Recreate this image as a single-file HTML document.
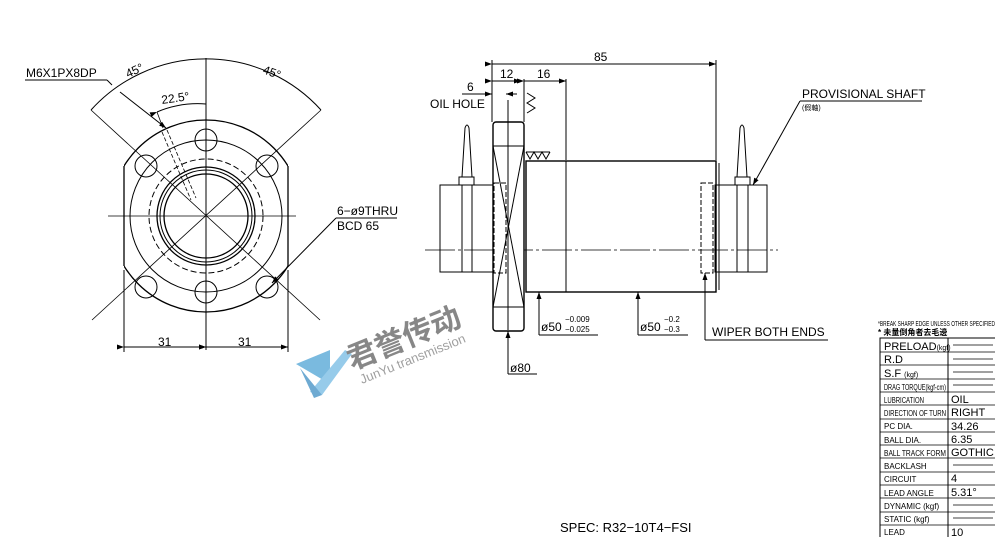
<!DOCTYPE html>
<html><head><meta charset="utf-8"><style>
html,body{margin:0;padding:0;background:#fff}
svg{display:block}
text{font-family:"Liberation Sans","Noto Sans CJK SC",sans-serif;fill:#000}
</style></head><body>
<svg width="995" height="537" viewBox="0 0 995 537" xmlns="http://www.w3.org/2000/svg">
<defs>
<clipPath id="fl"><rect x="124" y="100" width="164" height="240"/></clipPath>
<marker id="ar" markerWidth="8" markerHeight="6" refX="7" refY="3" orient="auto"><path d="M0,0.5 L7,3 L0,5.5z" fill="#000"/></marker>
</defs>
<g stroke="#000" fill="none" stroke-width="1">
<circle cx="206" cy="216" r="96" clip-path="url(#fl)" stroke-width="1.3"/>
<line x1="124" y1="166" x2="124" y2="266" stroke-width="1.3"/>
<line x1="288" y1="166" x2="288" y2="266" stroke-width="1.3"/>
<circle cx="206" cy="216" r="76"/>
<circle cx="206" cy="216" r="57" stroke-dasharray="6,3"/>
<circle cx="206" cy="216" r="49" stroke-width="1.3"/>
<circle cx="206" cy="216" r="46"/>
<circle cx="206" cy="216" r="42" stroke-width="1.3"/>
<circle cx="206" cy="140" r="11"/><circle cx="206" cy="292" r="11"/>
<circle cx="146" cy="166" r="11"/><circle cx="267" cy="166" r="11"/>
<circle cx="146" cy="287" r="11"/><circle cx="267" cy="287" r="11"/>
<line x1="108" y1="216" x2="296" y2="216" stroke-width="0.8"/>
<line x1="206" y1="58" x2="206" y2="350"/>
<path d="M91,110 A155,155 0 0 1 321,110"/>
<line x1="91" y1="110" x2="320" y2="320" stroke-width="0.8"/>
<line x1="321" y1="110" x2="92" y2="320" stroke-width="0.8"/>
<path d="M157,112 A105,105 0 0 1 206,104" marker-start="url(#ar)"/>
<line x1="157" y1="112" x2="163" y2="128" stroke-width="0.8"/>
<line x1="167" y1="130" x2="196" y2="198" stroke-dasharray="4,2" stroke-width="0.8"/>
<line x1="162" y1="132" x2="191" y2="200" stroke-dasharray="4,2" stroke-width="0.8"/>
<line x1="25" y1="80" x2="107" y2="80"/>
<polyline points="107,80 112,85"/>
<line x1="120" y1="92" x2="166" y2="128" marker-end="url(#ar)"/>
<line x1="124" y1="270" x2="124" y2="352"/><line x1="288" y1="270" x2="288" y2="352"/>
<line x1="124" y1="347" x2="206" y2="347" marker-start="url(#ar)" marker-end="url(#ar)"/>
<line x1="206" y1="347" x2="288" y2="347" marker-start="url(#ar)" marker-end="url(#ar)"/>
<line x1="336" y1="218" x2="397" y2="218"/>
<line x1="336" y1="218" x2="272" y2="283" marker-end="url(#ar)"/>
<line x1="425" y1="250" x2="778" y2="250" stroke-width="0.8" stroke-dasharray="30,3,3,3"/>
<rect x="440" y="185" width="54" height="87"/>
<rect x="715" y="185" width="52" height="87"/>
<rect x="462" y="185" width="10" height="87"/><rect x="737" y="185" width="11" height="87"/>
<rect x="459" y="177" width="15" height="8"/><rect x="735" y="177" width="15" height="8"/>
<path d="M462,177 L465,128 Q467,122 469,128 L472,177"/>
<path d="M737,177 L740,128 Q742,122 744,128 L747,177"/>
<rect x="493" y="122" width="31" height="209" rx="3" stroke-width="1.4" fill="#fff"/>
<line x1="493" y1="146" x2="524" y2="146"/><line x1="493" y1="307" x2="524" y2="307"/>
<line x1="493" y1="146" x2="524" y2="307"/><line x1="524" y1="146" x2="493" y2="307"/>
<line x1="508" y1="100" x2="508" y2="330"/>
<rect x="494" y="183" width="12" height="90" stroke-dasharray="5,2"/>
<rect x="701" y="183" width="12" height="90" stroke-dasharray="5,2"/>
<line x1="524" y1="155" x2="524" y2="300"/>
<rect x="526" y="161" width="190" height="131" stroke-width="1.4"/>
<line x1="566" y1="161" x2="566" y2="292"/>
<line x1="719" y1="163" x2="719" y2="290"/>
<line x1="492" y1="60" x2="492" y2="122"/><line x1="716" y1="60" x2="716" y2="160"/>
<line x1="566" y1="79" x2="566" y2="160"/><line x1="524" y1="79" x2="524" y2="122"/>
<line x1="492" y1="64" x2="716" y2="64" marker-start="url(#ar)" marker-end="url(#ar)"/>
<line x1="492" y1="81" x2="521" y2="81" marker-start="url(#ar)" marker-end="url(#ar)"/>
<line x1="524" y1="81" x2="566" y2="81" marker-start="url(#ar)" marker-end="url(#ar)"/>
<line x1="462" y1="94" x2="488" y2="94"/><line x1="488" y1="94" x2="492" y2="94" marker-end="url(#ar)"/>
<line x1="517" y1="94" x2="506" y2="94" marker-end="url(#ar)"/>
<path d="M527,93 L535,98 L527,103 L535,108 L527,113" />
<path d="M526,152 L530,159 L534,152 L538,159 L542,152 L546,159 L550,152"/>
<line x1="526" y1="152" x2="550" y2="152"/>
<line x1="539" y1="335" x2="539" y2="292" marker-end="url(#ar)"/>
<line x1="539" y1="335" x2="598" y2="335"/>
<line x1="638" y1="335" x2="638" y2="292" marker-end="url(#ar)"/>
<line x1="638" y1="335" x2="688" y2="335"/>
<line x1="705" y1="340" x2="705" y2="273" marker-end="url(#ar)"/>
<line x1="705" y1="340" x2="828" y2="340"/>
<line x1="508" y1="374" x2="508" y2="331" marker-end="url(#ar)"/>
<line x1="508" y1="374" x2="537" y2="374"/>
<line x1="800" y1="101" x2="922" y2="101"/>
<line x1="800" y1="101" x2="753" y2="185" marker-end="url(#ar)"/>
<rect x="880" y="338" width="116" height="205"/>
<line x1="948" y1="338" x2="948" y2="537"/>
</g>
<g font-size="12">
<text x="26" y="77">M6X1PX8DP</text>
<text x="128" y="78" transform="rotate(-25 128 78)">45°</text>
<text x="262" y="73" transform="rotate(20 262 73)">45°</text>
<text x="162" y="104" transform="rotate(-8 162 104)">22.5°</text>
<text x="337" y="215">6−ø9THRU</text>
<text x="337" y="230">BCD 65</text>
<text x="158" y="346">31</text><text x="238" y="346">31</text>
<text x="594" y="61">85</text>
<text x="500" y="78">12</text><text x="537" y="78">16</text>
<text x="467" y="91">6</text>
<text x="430" y="108">OIL  HOLE</text>
<text x="541" y="331">ø50</text><text x="565" y="322" font-size="8">−0.009</text><text x="565" y="332" font-size="8">−0.025</text>
<text x="640" y="331">ø50</text><text x="664" y="322" font-size="8">−0.2</text><text x="664" y="332" font-size="8">−0.3</text>
<text x="712" y="336">WIPER  BOTH  ENDS</text>
<text x="510" y="372">ø80</text>
<text x="802" y="98">PROVISIONAL  SHAFT</text>
<text x="802" y="110" font-size="7">(假軸)</text>
<text x="560" y="532" font-size="13" font-family="Liberation Serif">SPEC: <tspan font-family="Liberation Sans">R32−10T4−FSI</tspan></text>
</g>
<g font-size="11">
<text x="878" y="326" font-size="7" textLength="117" lengthAdjust="spacingAndGlyphs">*BREAK SHARP EDGE UNLESS OTHER SPECIFIED</text>
<text x="878" y="335" font-size="8" font-weight="bold">* 未量倒角者去毛邊</text>
</g>
<g stroke="#000" stroke-width="0.8">
<line x1="880" y1="352" x2="995" y2="352"/><line x1="880" y1="365" x2="995" y2="365"/>
<line x1="880" y1="379" x2="995" y2="379"/><line x1="880" y1="392" x2="995" y2="392"/>
<line x1="880" y1="405" x2="995" y2="405"/><line x1="880" y1="419" x2="995" y2="419"/>
<line x1="880" y1="432" x2="995" y2="432"/><line x1="880" y1="445" x2="995" y2="445"/>
<line x1="880" y1="458" x2="995" y2="458"/><line x1="880" y1="472" x2="995" y2="472"/>
<line x1="880" y1="485" x2="995" y2="485"/><line x1="880" y1="498" x2="995" y2="498"/>
<line x1="880" y1="512" x2="995" y2="512"/><line x1="880" y1="525" x2="995" y2="525"/>
<line x1="953" y1="345" x2="993" y2="345"/><line x1="953" y1="359" x2="993" y2="359"/>
<line x1="953" y1="372" x2="993" y2="372"/><line x1="953" y1="385" x2="993" y2="385"/>
<line x1="953" y1="465" x2="993" y2="465"/><line x1="953" y1="505" x2="993" y2="505"/>
<line x1="953" y1="518" x2="993" y2="518"/>
</g>
<g font-size="11">
<text x="884" y="350">PRELOAD<tspan font-size="7">(kgf)</tspan></text>
<text x="884" y="363">R.D</text>
<text x="884" y="377">S.F  <tspan font-size="7">(kgf)</tspan></text>
<text x="884" y="390" font-size="8" textLength="62" lengthAdjust="spacingAndGlyphs">DRAG TORQUE(kgf-cm)</text>
<text x="884" y="403" font-size="8" textLength="40" lengthAdjust="spacingAndGlyphs">LUBRICATION</text><text x="951" y="403">OIL</text>
<text x="884" y="416" font-size="8" textLength="62" lengthAdjust="spacingAndGlyphs">DIRECTION OF TURN</text><text x="951" y="416">RIGHT</text>
<text x="884" y="429" font-size="8">PC DIA.</text><text x="951" y="430">34.26</text>
<text x="884" y="443" font-size="8">BALL DIA.</text><text x="951" y="443">6.35</text>
<text x="884" y="456" font-size="8" textLength="62" lengthAdjust="spacingAndGlyphs">BALL TRACK FORM</text><text x="951" y="456">GOTHIC</text>
<text x="884" y="469" font-size="8">BACKLASH</text>
<text x="884" y="482" font-size="8">CIRCUIT</text><text x="951" y="482">4</text>
<text x="884" y="496" font-size="8">LEAD ANGLE</text><text x="951" y="496">5.31°</text>
<text x="884" y="509" font-size="8">DYNAMIC    (kgf)</text>
<text x="884" y="522" font-size="8">STATIC      (kgf)</text>
<text x="884" y="535" font-size="8">LEAD</text><text x="951" y="536">10</text>
</g>
<g opacity="0.8">
<path d="M296,364 L330,350 L330,384 Z" fill="#5aa9d8"/>
<path d="M310,392 L345,350 L352,354 L322,395 Z" fill="#7dbfe6"/>
<path d="M300,368 L322,395 L314,398 Z" fill="#4a95c8"/>
<text x="352" y="370" font-size="30" font-weight="bold" transform="rotate(-22 352 370)" style="fill:#6a6a6a">君誉传动</text>
<text x="362" y="384" font-size="13" transform="rotate(-22 362 384)" style="fill:#888">JunYu transmission</text>
</g>
</svg>
</body></html>
